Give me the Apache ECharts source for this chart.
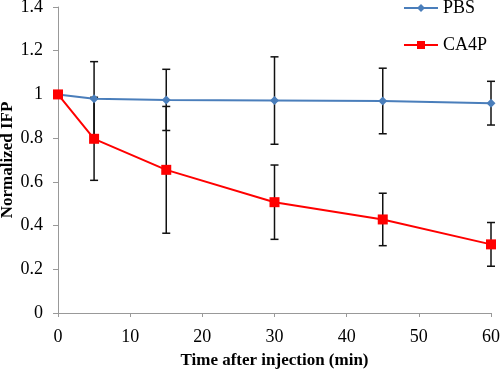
<!DOCTYPE html>
<html>
<head>
<meta charset="utf-8">
<script src="https://cdn.jsdelivr.net/npm/echarts@6/dist/echarts.min.js"></script>
<style>
  html, body { margin: 0; padding: 0; background: #fff; }
  #chart { width: 500px; height: 369px; }
</style>
</head>
<body>
<div id="chart"></div>
<script>
// time points (min)
const times = [0, 5, 15, 30, 45, 60];
// normalized IFP means
const pbsMean = [1.0, 0.98, 0.975, 0.972, 0.97, 0.96];
const ca4pMean = [1.0, 0.797, 0.655, 0.507, 0.428, 0.314];
// error (± SD)
const pbsErr = [0, 0.17, 0.14, 0.2, 0.15, 0.1];
const ca4pErr = [0, 0.19, 0.29, 0.17, 0.12, 0.1];

const fontFamily = '"Liberation Serif", "Times New Roman", serif';

const toPairs = (ys) => times.map((t, i) => [t, ys[i]]);
const toErr = (ys, es) => times
    .map((t, i) => [t, ys[i] - es[i], ys[i] + es[i]])
    .filter((d, i) => es[i] > 0);

const renderErr = (params, api) => {
    const x = api.value(0);
    const lo = api.coord([x, api.value(1)]);
    const hi = api.coord([x, api.value(2)]);
    const cap = 4;
    const style = { stroke: '#111', lineWidth: 1.5 };
    return {
        type: 'group',
        children: [
            { type: 'line', shape: { x1: lo[0], y1: lo[1], x2: hi[0], y2: hi[1] }, style },
            { type: 'line', shape: { x1: lo[0] - cap, y1: lo[1], x2: lo[0] + cap, y2: lo[1] }, style },
            { type: 'line', shape: { x1: hi[0] - cap, y1: hi[1], x2: hi[0] + cap, y2: hi[1] }, style }
        ]
    };
};

const chart = echarts.init(document.getElementById('chart'));
chart.setOption({
    animation: false,
    grid: { left: 58, right: 9, top: 7, bottom: 56, outerBoundsMode: 'none' },
    legend: {
        orient: 'vertical',
        right: 13,
        top: -1,
        padding: 0,
        itemGap: 19,
        itemWidth: 34,
        itemHeight: 10,
        textStyle: { fontFamily, fontSize: 18, color: '#000' },
        data: ['PBS', 'CA4P']
    },
    xAxis: {
        type: 'value',
        min: 0,
        max: 60,
        interval: 10,
        name: 'Time after injection (min)',
        nameLocation: 'middle',
        nameGap: 39,
        nameTextStyle: { fontFamily, fontSize: 17, fontWeight: 'bold', color: '#000' },
        axisLine: { lineStyle: { color: '#999' } },
        axisTick: { lineStyle: { color: '#999' }, length: 4 },
        axisLabel: { fontFamily, fontSize: 18, color: '#000', margin: 15 },
        splitLine: { show: false }
    },
    yAxis: {
        type: 'value',
        min: 0,
        max: 1.4,
        interval: 0.2,
        name: 'Normalized IFP',
        nameLocation: 'middle',
        nameGap: 42,
        nameMoveOverlap: false,
        nameTextStyle: { fontFamily, fontSize: 17, fontWeight: 'bold', color: '#000' },
        axisLine: { show: true, lineStyle: { color: '#999' } },
        axisTick: { show: true, lineStyle: { color: '#999' }, length: 5 },
        axisLabel: { fontFamily, fontSize: 18, color: '#000', margin: 15 },
        splitLine: { show: false }
    },
    series: [
        {
            type: 'custom',
            renderItem: renderErr,
            data: toErr(pbsMean, pbsErr),
            z: 1,
            silent: true
        },
        {
            type: 'custom',
            renderItem: renderErr,
            data: toErr(ca4pMean, ca4pErr),
            z: 1,
            silent: true
        },
        {
            name: 'PBS',
            type: 'line',
            data: toPairs(pbsMean),
            symbol: 'diamond',
            symbolSize: 9,
            lineStyle: { color: '#4a7ebb', width: 2 },
            itemStyle: { color: '#4a7ebb' },
            z: 3
        },
        {
            name: 'CA4P',
            type: 'line',
            data: toPairs(ca4pMean),
            symbol: 'rect',
            symbolSize: 10,
            lineStyle: { color: '#ff0000', width: 2 },
            itemStyle: { color: '#ff0000' },
            z: 4
        }
    ]
});
</script>
</body>
</html>
